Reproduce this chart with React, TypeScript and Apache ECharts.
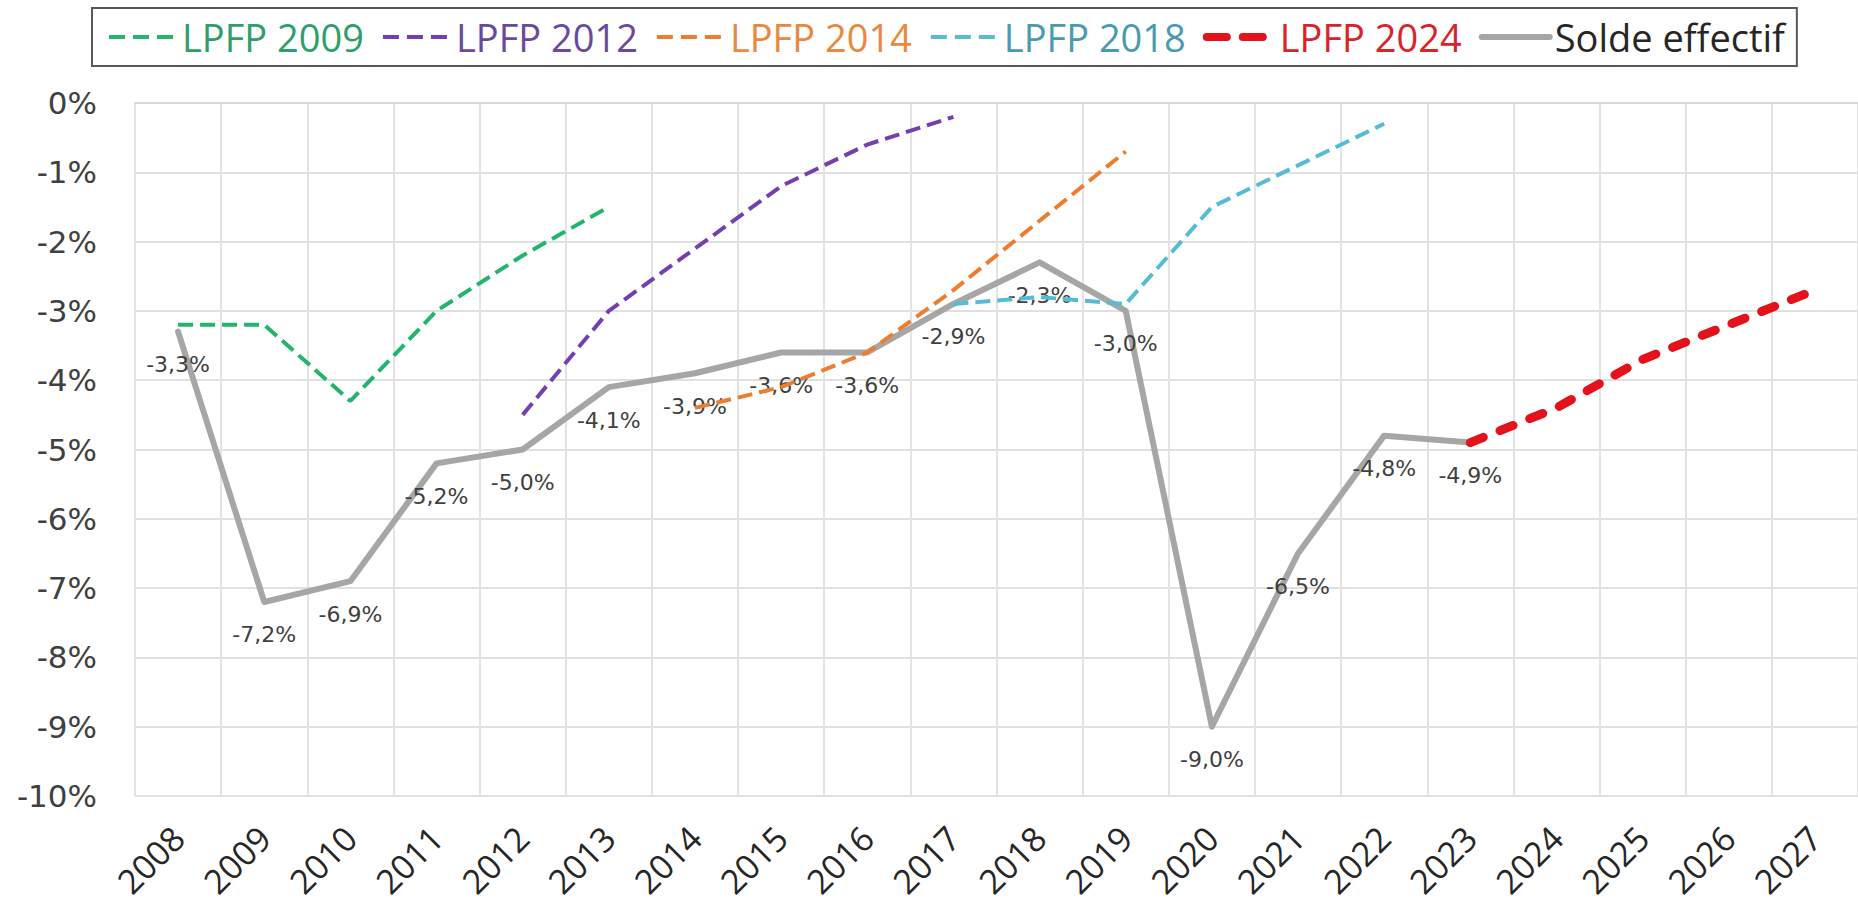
import React, { useEffect, useRef } from "react";
import * as echarts from "echarts";

const years = ["2008","2009","2010","2011","2012","2013","2014","2015","2016","2017","2018","2019","2020","2021","2022","2023","2024","2025","2026","2027"];

const lpfp2009 = [-3.2, -3.2, -4.3, -3.0, -2.2, -1.5, null, null, null, null, null, null, null, null, null, null, null, null, null, null];
const lpfp2012 = [null, null, null, null, -4.5, -3.0, -2.1, -1.2, -0.6, -0.2, null, null, null, null, null, null, null, null, null, null];
const lpfp2014 = [null, null, null, null, null, null, -4.4, -4.1, -3.6, -2.7, -1.7, -0.7, null, null, null, null, null, null, null, null];
const lpfp2018 = [null, null, null, null, null, null, null, null, null, -2.9, -2.8, -2.9, -1.5, -0.9, -0.3, null, null, null, null, null];
const lpfp2024 = [null, null, null, null, null, null, null, null, null, null, null, null, null, null, null, -4.9, -4.4, -3.7, -3.2, -2.7];
const soldeEffectif = [-3.3, -7.2, -6.9, -5.2, -5.0, -4.1, -3.9, -3.6, -3.6, -2.9, -2.3, -3.0, -9.0, -6.5, -4.8, -4.9, null, null, null, null];

const yMin = -10;
const yMax = 0;
const yStep = 1;

export default function App() {
  const ref = useRef<HTMLDivElement>(null);
  useEffect(() => {
    if (!ref.current) return;
    const chart = echarts.init(ref.current, undefined, { renderer: "svg" });
    const dashed = (name: string, data: (number | null)[], color: string, width: number, dash: number[], cap: string) => ({
      name,
      type: "line",
      data,
      symbol: "none",
      silent: true,
      connectNulls: false,
      lineStyle: { color, width, type: dash, cap },
      itemStyle: { color },
      z: 3,
    });
    const noDot = { color: "rgba(0,0,0,0)", borderWidth: 0, borderColor: "rgba(0,0,0,0)" };
    chart.setOption({
      animation: false,
      backgroundColor: "#ffffff",
      grid: { left: 135, top: 103, width: 1726, height: 693, containLabel: false },
      legend: {
        left: 92,
        top: 8,
        padding: [10, 12, 10, 15],
        borderColor: "#595959",
        borderWidth: 2,
        itemWidth: 68,
        itemHeight: 14,
        itemGap: 17,
        selectedMode: false,
        textStyle: { fontFamily: "Open Sans", fontSize: 38 },
        data: [
          { name: "LPFP 2009", textStyle: { color: "#2e9e6b" }, itemStyle: noDot, lineStyle: { width: 4, type: [16, 8] } },
          { name: "LPFP 2012", textStyle: { color: "#6a4a9c" }, itemStyle: noDot, lineStyle: { width: 4, type: [16, 8] } },
          { name: "LPFP 2014", textStyle: { color: "#e8893f" }, itemStyle: noDot, lineStyle: { width: 4, type: [16, 8] } },
          { name: "LPFP 2018", textStyle: { color: "#4a9bb0" }, itemStyle: noDot, lineStyle: { width: 4, type: [16, 8] } },
          { name: "LPFP 2024", textStyle: { color: "#d9232b" }, itemStyle: noDot, lineStyle: { width: 8, type: [20, 16], cap: "round" } },
          { name: "Solde effectif", textStyle: { color: "#262626" }, itemStyle: noDot, lineStyle: { width: 6, type: "solid" } },
        ],
      },
      xAxis: {
        type: "category",
        data: years,
        boundaryGap: true,
        axisLine: { show: true, lineStyle: { color: "#d9d9d9", width: 2 } },
        axisTick: { show: false },
        splitLine: { show: true, lineStyle: { color: "#e3e3e3", width: 2 } },
        axisLabel: {
          rotate: 45,
          margin: 36,
          interval: 0,
          fontFamily: "Open Sans",
          fontSize: 34,
          color: "#262626",
        },
      },
      yAxis: {
        type: "value",
        min: yMin,
        max: yMax,
        interval: yStep,
        axisLine: { show: false },
        axisTick: { show: false },
        splitLine: { show: true, lineStyle: { color: "#e0e0e0", width: 2 } },
        axisLabel: {
          margin: 38,
          fontFamily: "DejaVu Sans",
          fontSize: 31,
          color: "#404040",
          formatter: (v: number) => `${v}%`,
        },
      },
      series: [
        {
          name: "Solde effectif",
          type: "line",
          data: soldeEffectif,
          symbol: "circle",
          symbolSize: 0,
          showSymbol: true,
          silent: true,
          lineStyle: { color: "#a6a6a6", width: 6, cap: "round", join: "round" },
          itemStyle: { color: "#a6a6a6" },
          z: 2,
          label: {
            show: true,
            position: "bottom",
            distance: 22,
            fontFamily: "DejaVu Sans",
            fontSize: 22,
            color: "#404040",
            formatter: (p: any) => (p.value == null ? "" : `${Number(p.value).toFixed(1).replace(".", ",")}%`),
          },
        },
        dashed("LPFP 2009", lpfp2009, "#25b46e", 4, [15, 7], "butt"),
        dashed("LPFP 2012", lpfp2012, "#7440b0", 4, [15, 7], "butt"),
        dashed("LPFP 2014", lpfp2014, "#ed7d31", 4, [15, 7], "butt"),
        dashed("LPFP 2018", lpfp2018, "#56bcd6", 4, [15, 7], "butt"),
        dashed("LPFP 2024", lpfp2024, "#e3121b", 9, [14, 18], "round"),
      ],
    });
    return () => chart.dispose();
  }, []);
  return <div ref={ref} style={{ position: "fixed", left: 0, top: 0, width: 1858, height: 909 }} />;
}
